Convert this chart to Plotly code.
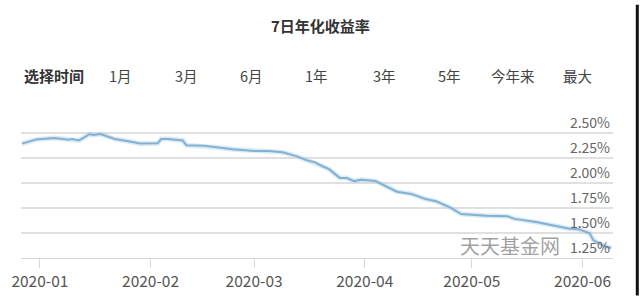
import plotly.graph_objects as go

# --- data ---
dates = ["2019-12-27", "2019-12-31", "2020-01-05", "2020-01-09", "2020-01-10", "2020-01-12",
         "2020-01-15", "2020-01-16", "2020-01-18", "2020-01-20", "2020-01-22", "2020-01-27",
         "2020-01-29", "2020-02-03", "2020-02-04", "2020-02-06", "2020-02-10", "2020-02-11",
         "2020-02-16", "2020-02-20", "2020-02-24", "2020-03-01", "2020-03-05", "2020-03-09",
         "2020-03-13", "2020-03-16", "2020-03-18", "2020-03-20", "2020-03-22", "2020-03-25",
         "2020-03-27", "2020-03-29", "2020-03-31", "2020-04-04", "2020-04-07", "2020-04-10",
         "2020-04-14", "2020-04-18", "2020-04-21", "2020-04-25", "2020-04-28", "2020-05-01",
         "2020-05-05", "2020-05-11", "2020-05-13", "2020-05-19", "2020-05-24", "2020-05-28",
         "2020-05-31", "2020-06-03", "2020-06-04", "2020-06-06", "2020-06-07", "2020-06-09"]
yield7d = [2.394, 2.436, 2.449, 2.433, 2.440, 2.426,
           2.490, 2.480, 2.490, 2.465, 2.440, 2.410,
           2.394, 2.397, 2.440, 2.440, 2.426, 2.378,
           2.372, 2.356, 2.337, 2.320, 2.320, 2.308,
           2.266, 2.224, 2.208, 2.170, 2.138, 2.051,
           2.050, 2.019, 2.032, 2.019, 1.968, 1.913,
           1.891, 1.840, 1.817, 1.753, 1.689, 1.680,
           1.673, 1.667, 1.641, 1.609, 1.571, 1.545,
           1.538, 1.497, 1.430, 1.385, 1.370, 1.350]
y_ticks = [1.25, 1.50, 1.75, 2.00, 2.25, 2.50]
y_tick_labels = ["1.25%", "1.50%", "1.75%", "2.00%", "2.25%", "2.50%"]
x_ticks = ["2020-01-01", "2020-02-01", "2020-03-01", "2020-04-01", "2020-05-01", "2020-06-01"]
x_tick_labels = ["2020-01", "2020-02", "2020-03", "2020-04", "2020-05", "2020-06"]
title_text = "7日年化收益率"
range_label = "选择时间"
range_buttons = ["1月", "3月", "6月", "1年", "3年", "5年", "今年来", "最大"]
watermark = "天天基金网"

FONT = "Noto Sans CJK SC"

fig = go.Figure()
# soft halo
fig.add_trace(go.Scatter(x=dates, y=yield7d, mode="lines",
                         line=dict(color="rgba(175,210,235,0.45)", width=5),
                         hoverinfo="skip", showlegend=False))
fig.add_trace(go.Scatter(x=dates, y=yield7d, mode="lines",
                         line=dict(color="#84b0d2", width=2),
                         showlegend=False))

W, H = 640, 303
ml, mr, mt, mb = 16, 27, 117, 39

fig.update_layout(
    width=W, height=H,
    margin=dict(l=ml, r=mr, t=mt, b=mb, pad=0),
    paper_bgcolor="white", plot_bgcolor="white",
    font=dict(family=FONT, color="#666666", size=12),
    xaxis=dict(
        type="date",
        range=["2019-12-26 17:00", "2020-06-09 12:45"],
        tickvals=x_ticks, ticktext=x_tick_labels,
        ticklabeloverflow="allow",
        showgrid=False, showline=True, linecolor="#d8d8d8", linewidth=1,
        ticks="outside", ticklen=9, tickcolor="#d8d8d8", tickwidth=1,
        tickfont=dict(size=15.5, color="#555555", family=FONT),
        zeroline=False, fixedrange=True,
    ),
    yaxis=dict(
        range=[1.25, 2.66], side="right",
        tickvals=y_ticks, ticktext=y_tick_labels,
        ticklabelposition="inside top",
        ticklabeloverflow="allow",
        showgrid=True, gridcolor="#e0e0e0", gridwidth=1.5,
        ticks="", zeroline=False, showline=False,
        tickfont=dict(size=14, color="#666666", family=FONT),
        fixedrange=True,
    ),
)

# title
fig.add_annotation(text="<b>" + title_text + "</b>", xref="paper", yref="paper", x=0.5, y=1,
                   xanchor="center", yanchor="middle", showarrow=False,
                   yshift=(mt - 25), xshift=(318 - (ml + (W - ml - mr) / 2)),
                   font=dict(size=15, color="#333333", family=FONT),
                   )
# range selector label (bold)
fig.add_annotation(text="<b>" + range_label + "</b>", xref="paper", yref="paper",
                   x=0, y=1, xanchor="left", yanchor="middle", showarrow=False,
                   xshift=(17 - ml), yshift=(mt - 75),
                   font=dict(size=15, color="#333333", family=FONT))
btn_centers = [115, 181, 246, 311, 379, 444, 508, 572]
for lbl, cx in zip(range_buttons, btn_centers):
    fig.add_annotation(text=lbl, xref="paper", yref="paper", x=0, y=1,
                       xanchor="center", yanchor="middle", showarrow=False,
                       xshift=(cx - ml), yshift=(mt - 75),
                       font=dict(size=14.5, color="#444444", family=FONT))

# watermark
fig.add_annotation(text=watermark, xref="paper", yref="paper", x=0, y=0,
                   xanchor="center", yanchor="middle", showarrow=False,
                   xshift=(505 - ml), yshift=(264 - 251),
                   font=dict(size=20, color="rgba(130,130,130,0.75)", family=FONT))

# right border line
fig.add_shape(type="line", xref="paper", yref="paper",
              x0=(637.5 - ml) / (W - ml - mr), x1=(637.5 - ml) / (W - ml - mr),
              y0=-mb / (H - mt - mb), y1=(H - mb) / (H - mt - mb),
              line=dict(color="#111111", width=3))

fig.write_html("out.html")
